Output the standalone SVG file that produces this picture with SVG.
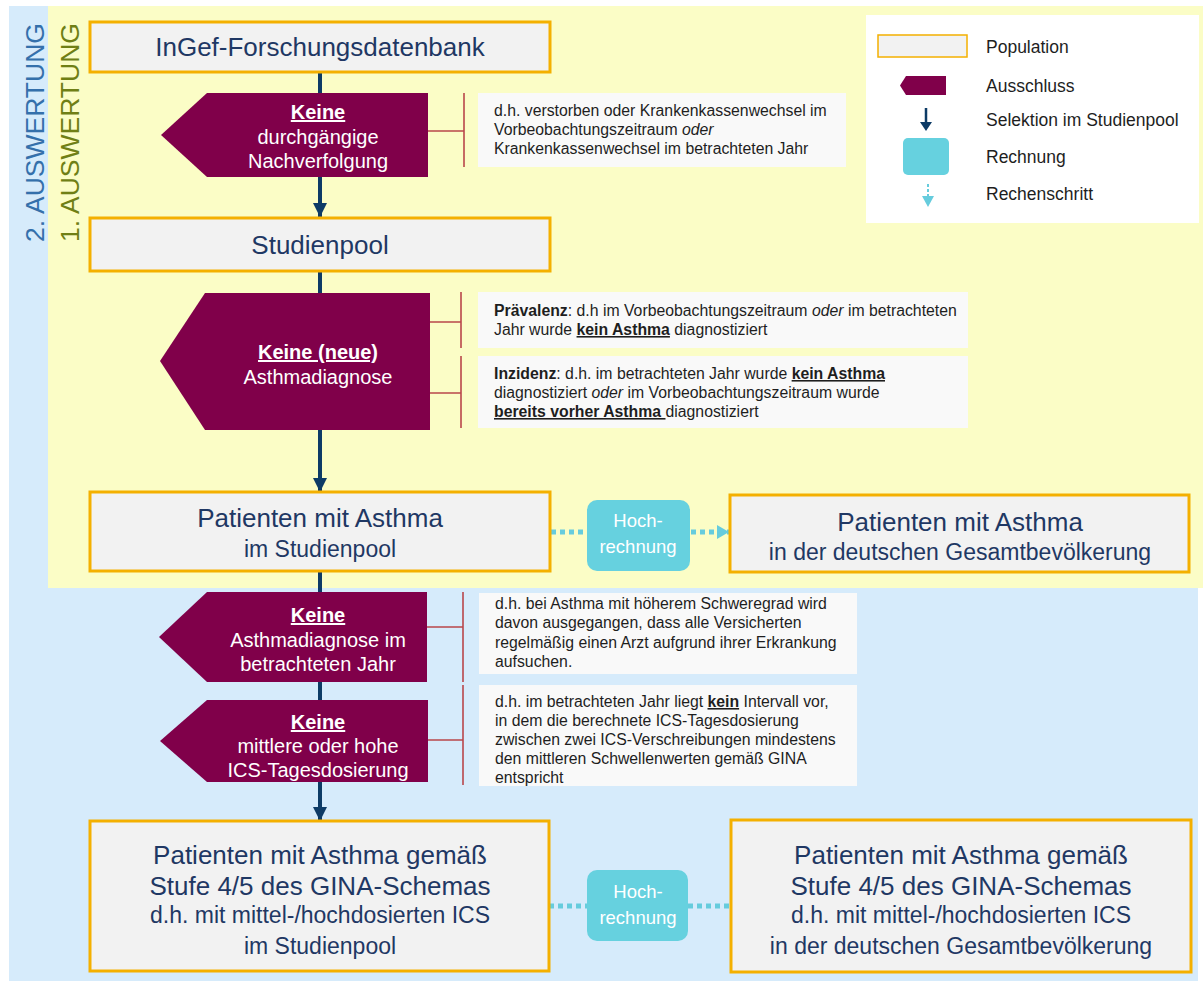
<svg xmlns="http://www.w3.org/2000/svg" width="1203" height="981" viewBox="0 0 1203 981">
<defs>
<marker id="navyArrow" markerUnits="userSpaceOnUse" markerWidth="16" markerHeight="16" refX="14" refY="7" orient="auto"><path d="M0,0 L14,7 L0,14 Z" fill="#0D3B66"/></marker>
<marker id="cyanArrow" markerUnits="userSpaceOnUse" markerWidth="16" markerHeight="16" refX="12" refY="7" orient="auto"><path d="M0,0 L12,7 L0,14 Z" fill="#66CCDD"/></marker>
</defs>
<style>
.pop{fill:#F2F2F2;stroke:#F4B000;stroke-width:3}
.excl{fill:#80004A}
.note{fill:#F9F9F9}
.brk{stroke:#B9474B;stroke-width:1.6;fill:none}
.main{stroke:#0D3B66;stroke-width:4;fill:none}
.dot{stroke:#66CCDD;stroke-width:5;stroke-dasharray:5 4;fill:none}
.calc{fill:#66D1DF}
.t{font-family:"Liberation Sans",Arial,sans-serif}
.big{font-size:26px;fill:#1F3864;text-anchor:middle}
.med{font-size:23px;fill:#1F3864;text-anchor:middle}
.ex{font-size:20px;fill:#FFFFFF;text-anchor:middle}
.sm{font-size:15.8px;fill:#1E1E1E}
.lg{font-size:17.5px;fill:#1E1E1E}
.hr{font-size:18.5px;fill:#FFFFFF;text-anchor:middle}
.b{font-weight:bold}
.u{text-decoration:underline}
.i{font-style:italic}
</style>
<g id="background">
<rect x="9" y="6" width="1189" height="975" fill="#D6EBFB"/>
<rect x="48" y="6" width="1155" height="582" fill="#FBFDC6"/>
</g>
<g id="labels">
<text class="t" font-size="26.5" fill="#3470AB" transform="translate(44,242) rotate(-90)">2. AUSWERTUNG</text>
<text class="t" font-size="26.5" fill="#6F7F15" transform="translate(79,242) rotate(-90)">1. AUSWERTUNG</text>
</g>
<g id="connectors">
<line class="main" x1="320" y1="72" x2="320" y2="217" marker-end="url(#navyArrow)"/>
<line class="main" x1="320" y1="271" x2="320" y2="492" marker-end="url(#navyArrow)"/>
<line class="main" x1="320" y1="571" x2="320" y2="821" marker-end="url(#navyArrow)"/>
<path class="brk" d="M428,131 H464 M464,93 V167"/>
<path class="brk" d="M430,322 H461 M461,292 V348"/>
<path class="brk" d="M430,393 H461 M461,356 V428"/>
<path class="brk" d="M427,627 H463 M463,592 V682"/>
<path class="brk" d="M428,740 H463 M463,685 V785"/>
<line class="dot" x1="551" y1="532" x2="587" y2="532"/>
<line class="dot" x1="691" y1="532" x2="729" y2="532" marker-end="url(#cyanArrow)"/>
<line class="dot" x1="549" y1="906" x2="587" y2="906"/>
<line class="dot" x1="688" y1="906" x2="731" y2="906"/>
</g>
<g id="n-ingef">
<rect class="pop" x="90" y="22" width="460" height="50"/>
<text class="t big" x="320" y="56">InGef-Forschungsdatenbank</text>
</g>
<g id="n-excl1">
<path class="excl" d="M207,93 L428,93 L428,177 L207,177 L161,135 Z"/>
<text class="t ex" x="318" y="119"><tspan class="b u">Keine</tspan></text>
<text class="t ex" x="318" y="144">durchgängige</text>
<text class="t ex" x="318" y="168">Nachverfolgung</text>
</g>
<g id="n-note1">
<rect class="note" x="478" y="93" width="368" height="74"/>
<text class="t sm" x="494" y="116">d.h. verstorben oder Krankenkassenwechsel im</text>
<text class="t sm" x="494" y="135">Vorbeobachtungszeitraum <tspan class="i">oder</tspan></text>
<text class="t sm" x="494" y="154">Krankenkassenwechsel im betrachteten Jahr</text>
</g>
<g id="n-studienpool">
<rect class="pop" x="90" y="218" width="460" height="53"/>
<text class="t big" x="320" y="254">Studienpool</text>
</g>
<g id="n-excl2">
<path class="excl" d="M205,293 L430,293 L430,430 L205,430 L160,361 Z"/>
<text class="t ex" x="318" y="359"><tspan class="b u">Keine (neue)</tspan></text>
<text class="t ex" x="318" y="384">Asthmadiagnose</text>
</g>
<g id="n-note-praevalenz">
<rect class="note" x="478" y="292" width="490" height="56"/>
<text class="t sm" x="494" y="316"><tspan class="b">Prävalenz</tspan>: d.h im Vorbeobachtungszeitraum <tspan class="i">oder</tspan> im betrachteten</text>
<text class="t sm" x="494" y="335">Jahr wurde <tspan class="b u">kein Asthma</tspan> diagnostiziert</text>
</g>
<g id="n-note-inzidenz">
<rect class="note" x="478" y="356" width="490" height="72"/>
<text class="t sm" x="494" y="379"><tspan class="b">Inzidenz</tspan>: d.h. im betrachteten Jahr wurde <tspan class="b u">kein Asthma</tspan></text>
<text class="t sm" x="494" y="398">diagnostiziert <tspan class="i">oder</tspan> im Vorbeobachtungszeitraum wurde</text>
<text class="t sm" x="494" y="417"><tspan class="b u">bereits vorher Asthma&#160;</tspan>diagnostiziert</text>
</g>
<g id="n-patienten">
<rect class="pop" x="90" y="492" width="460" height="79"/>
<text class="t big" x="320" y="527">Patienten mit Asthma</text>
<text class="t med" x="320" y="557">im Studienpool</text>
</g>
<g id="n-hoch1">
<rect class="calc" x="587" y="500" width="103" height="71" rx="10"/>
<text class="t hr" x="638" y="527">Hoch-</text>
<text class="t hr" x="638" y="553">rechnung</text>
</g>
<g id="n-patienten-ges">
<rect class="pop" x="730" y="495" width="459" height="77"/>
<text class="t big" x="960" y="531">Patienten mit Asthma</text>
<text class="t med" x="960" y="560">in der deutschen Gesamtbevölkerung</text>
</g>
<g id="n-excl3">
<path class="excl" d="M207,592 L427,592 L427,682 L207,682 L159,637 Z"/>
<text class="t ex" x="318" y="622"><tspan class="b u">Keine</tspan></text>
<text class="t ex" x="318" y="647">Asthmadiagnose im</text>
<text class="t ex" x="318" y="671">betrachteten Jahr</text>
</g>
<g id="n-note3">
<rect class="note" x="479" y="593" width="378" height="81"/>
<text class="t sm" x="495" y="609">d.h. bei Asthma mit höherem Schweregrad wird</text>
<text class="t sm" x="495" y="628">davon ausgegangen, dass alle Versicherten</text>
<text class="t sm" x="495" y="648">regelmäßig einen Arzt aufgrund ihrer Erkrankung</text>
<text class="t sm" x="495" y="667">aufsuchen.</text>
</g>
<g id="n-excl4">
<path class="excl" d="M207,700 L428,700 L428,782 L207,782 L160,741 Z"/>
<text class="t ex" x="318" y="729"><tspan class="b u">Keine</tspan></text>
<text class="t ex" x="318" y="753">mittlere oder hohe</text>
<text class="t ex" x="318" y="777">ICS-Tagesdosierung</text>
</g>
<g id="n-note4">
<rect class="note" x="479" y="685" width="378" height="101"/>
<text class="t sm" x="495" y="707">d.h. im betrachteten Jahr liegt <tspan class="b u">kein</tspan> Intervall vor,</text>
<text class="t sm" x="495" y="726">in dem die berechnete ICS-Tagesdosierung</text>
<text class="t sm" x="495" y="745">zwischen zwei ICS-Verschreibungen mindestens</text>
<text class="t sm" x="495" y="764">den mittleren Schwellenwerten gemäß GINA</text>
<text class="t sm" x="495" y="783">entspricht</text>
</g>
<g id="n-gina-pool">
<rect class="pop" x="90" y="821" width="459" height="150"/>
<text class="t big" x="320" y="864">Patienten mit Asthma gemäß</text>
<text class="t big" x="320" y="895">Stufe 4/5 des GINA-Schemas</text>
<text class="t med" x="320" y="923">d.h. mit mittel-/hochdosierten ICS</text>
<text class="t med" x="320" y="954">im Studienpool</text>
</g>
<g id="n-hoch2">
<rect class="calc" x="587" y="870" width="101" height="71" rx="10"/>
<text class="t hr" x="638" y="898">Hoch-</text>
<text class="t hr" x="638" y="924">rechnung</text>
</g>
<g id="n-gina-ges">
<rect class="pop" x="731" y="820" width="460" height="152"/>
<text class="t big" x="961" y="864">Patienten mit Asthma gemäß</text>
<text class="t big" x="961" y="895">Stufe 4/5 des GINA-Schemas</text>
<text class="t med" x="961" y="923">d.h. mit mittel-/hochdosierten ICS</text>
<text class="t med" x="961" y="954">in der deutschen Gesamtbevölkerung</text>
</g>
<g id="legend">
<rect x="866" y="15" width="333" height="208" fill="#FFFFFF"/>
<rect x="878" y="35" width="89" height="22" fill="#F2F2F2" stroke="#F4B000" stroke-width="1.5"/>
<path class="excl" d="M906,76 L946,76 L946,95 L906,95 L900,85.5 Z"/>
<line x1="926" y1="108" x2="926" y2="124" stroke="#0D3B66" stroke-width="2.5"/>
<path d="M920,122 L932,122 L926,131 Z" fill="#0D3B66"/>
<rect class="calc" x="903" y="138" width="46" height="37" rx="5"/>
<line x1="928" y1="184" x2="928" y2="198" stroke="#66CCDD" stroke-width="2" stroke-dasharray="3 2"/>
<path d="M922,196 L934,196 L928,207 Z" fill="#66CCDD"/>
<text class="t lg" x="986" y="53">Population</text>
<text class="t lg" x="986" y="92">Ausschluss</text>
<text class="t lg" x="986" y="126">Selektion im Studienpool</text>
<text class="t lg" x="986" y="163">Rechnung</text>
<text class="t lg" x="986" y="200">Rechenschritt</text>
</g>
</svg>
